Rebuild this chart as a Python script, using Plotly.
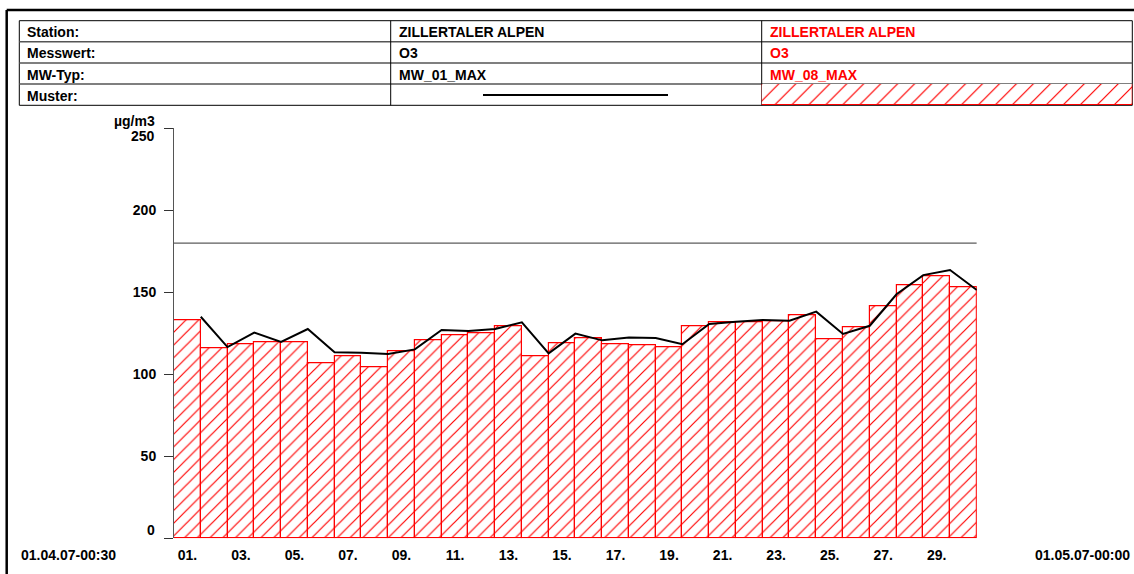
import plotly.graph_objects as go

W, H = 1134, 574

# Daily ozone values, ZILLERTALER ALPEN, April 2007 (µg/m3)
days = list(range(1, 31))
mw_08_max = [133.1, 115.6, 118.3, 119.5, 119.5, 106.5, 110.7, 104.0, 114.2, 120.7,
             123.8, 124.8, 129.5, 111.0, 118.9, 122.1, 118.1, 117.5, 116.2, 129.0,
             131.5, 131.7, 132.3, 135.7, 121.3, 128.4, 141.2, 154.3, 159.8, 152.8]
mw_01_max = [135.1, 116.6, 125.4, 119.7, 127.6, 113.4, 113.2, 112.4, 115.2, 127.0,
             126.4, 127.6, 131.7, 112.8, 124.8, 120.7, 122.5, 122.1, 118.3, 130.7,
             132.1, 133.1, 132.7, 138.2, 124.6, 129.6, 148.8, 160.5, 163.6, 151.4]
limit_value = 180

y_ticks = [0, 50, 100, 150, 200, 250]
x_label_days = days[::2]
x_tick_labels = [f"{d:02d}." for d in x_label_days]
day_ends = [d + 0.5 for d in days]

row_labels = ["Station:", "Messwert:", "MW-Typ:", "Muster:"]
series_1_info = ["ZILLERTALER ALPEN", "O3", "MW_01_MAX"]
series_2_info = ["ZILLERTALER ALPEN", "O3", "MW_08_MAX"]
unit_label = "µg/m3"
start_label = "01.04.07-00:30"
end_label = "01.05.07-00:00"

FONT = "Liberation Sans, Arial, Helvetica, sans-serif"
RED = "#ff0000"
FS = 14


def px(x):
    return x / W


def py(y):
    return 1 - y / H


hatch = dict(shape="/", fgcolor=RED, bgcolor="white", size=9, solidity=0.13,
             fillmode="replace")

fig = go.Figure()

# 8-hour max as hatched daily bars with red outline
fig.add_trace(go.Bar(
    x=days, y=mw_08_max, width=1,
    marker=dict(color="white", line=dict(color=RED, width=1.2), pattern=hatch),
    xaxis="x", yaxis="y", showlegend=False, hoverinfo="skip"))

# limit line
fig.add_trace(go.Scatter(
    x=[days[0] - 0.5, days[-1] + 0.5], y=[limit_value, limit_value],
    mode="lines", line=dict(color="#333333", width=1),
    xaxis="x", yaxis="y", showlegend=False, hoverinfo="skip"))

# 1-hour max, plotted at the end of each day
fig.add_trace(go.Scatter(
    x=day_ends, y=mw_01_max,
    mode="lines", line=dict(color="black", width=2),
    xaxis="x", yaxis="y", showlegend=False, hoverinfo="skip"))

# hatched swatch in the header table
fig.add_trace(go.Bar(
    x=[0], y=[1], width=1,
    marker=dict(color="white", line=dict(color=RED, width=1),
                pattern=dict(hatch, size=12, solidity=0.1)),
    xaxis="x2", yaxis="y2", showlegend=False, hoverinfo="skip"))

shapes = []


def line(x0, y0, x1, y1, color="black", width=1):
    shapes.append(dict(type="line", xref="paper", yref="paper",
                       x0=px(x0), y0=py(y0), x1=px(x1), y1=py(y1),
                       line=dict(color=color, width=width), layer="below"))


# page frame
line(6.7, 10, W + 2, 10, width=2.5)
line(6.7, 10, 6.7, H + 2, width=2.5)

# header table
tbl_l, tbl_r, tbl_t, tbl_b = 19.3, 1132.3, 20.7, 105.3
col_1, col_2 = 390.7, 761.7
row_lines = [41.7, 63.0, 84.0]
line(tbl_l, tbl_t, tbl_r, tbl_t)
line(tbl_l, tbl_b, tbl_r, tbl_b)
line(tbl_l, tbl_t, tbl_l, tbl_b)
line(tbl_r, tbl_t, tbl_r, tbl_b)
for r in row_lines:
    line(tbl_l, r, tbl_r, r, color="#555555", width=1.5)
line(col_1, tbl_t, col_1, tbl_b)
line(col_2, tbl_t, col_2, tbl_b)
# line sample for MW_01_MAX
line(483, 95, 668, 95, width=2)

annotations = []


def text(s, x, y, color="black", xanchor="left", **kw):
    annotations.append(dict(text=s, x=px(x), y=py(y), xref="paper", yref="paper",
                            xanchor=xanchor, yanchor="middle", showarrow=False,
                            font=dict(family=FONT, size=FS, color=color, weight="bold"),
                            **kw))


row_centers = [32, 53, 74.5, 95.5]
for lbl, yc in zip(row_labels, row_centers):
    text(lbl, 25, yc)
for s, yc in zip(series_1_info, row_centers):
    text(s, 397, yc)
for s, yc in zip(series_2_info, row_centers):
    text(s, 768, yc, color=RED)

text(unit_label, 157, 121, xanchor="right")
text(start_label, 19, 555)
text(end_label, 1132, 555, xanchor="right")

# end values of the y scale sit inside the axis span
for val, shift in ((y_ticks[0], 8), (y_ticks[-1], -8)):
    annotations.append(dict(text=str(val), x=px(157), y=val, xref="paper", yref="y",
                            xanchor="right", yanchor="middle", yshift=shift,
                            showarrow=False,
                            font=dict(family=FONT, size=FS, color="black", weight="bold")))

y_text = ["" if v in (y_ticks[0], y_ticks[-1]) else str(v) for v in y_ticks]
x_domain = [px(174), px(976.8)]

fig.update_layout(
    width=W, height=H,
    margin=dict(l=0, r=0, t=0, b=0),
    paper_bgcolor="white", plot_bgcolor="rgba(0,0,0,0)",
    bargap=0, barmode="overlay",
    font=dict(family=FONT, size=FS, color="black"),
    xaxis=dict(domain=x_domain, range=[0.5, 30.5],
               tickmode="array", tickvals=x_label_days, ticktext=x_tick_labels,
               ticks="", showline=False, showgrid=False, zeroline=False,
               ticklabelstandoff=7,
               tickfont=dict(family=FONT, size=FS, color="black", weight="bold"),
               fixedrange=True),
    # day boundary tick marks
    xaxis3=dict(domain=x_domain, range=[0.5, 30.5], overlaying="x", side="bottom",
                anchor="y", tickmode="array", tickvals=day_ends,
                ticks="outside", ticklen=7, tickwidth=1, tickcolor="#333333",
                showticklabels=False, showline=False, showgrid=False,
                zeroline=False, fixedrange=True),
    yaxis=dict(domain=[(H - 538.3) / H, (H - 128.3) / H], range=[0, 250],
               tickmode="array", tickvals=y_ticks, ticktext=y_text,
               ticks="outside", ticklen=9, tickwidth=1, tickcolor="#333333",
               showline=True, linecolor="#555555", linewidth=1,
               layer="below traces", showgrid=False, zeroline=False,
               ticklabelstandoff=5,
               tickfont=dict(family=FONT, size=FS, color="black", weight="bold"),
               fixedrange=True),
    xaxis2=dict(domain=[px(col_2), px(tbl_r)], range=[-0.5, 0.5], visible=False,
                fixedrange=True),
    yaxis2=dict(domain=[(H - tbl_b) / H, (H - 84.0) / H], range=[0, 1], visible=False,
                fixedrange=True),
    shapes=shapes,
    annotations=annotations,
)

fig.write_html("out.html")
